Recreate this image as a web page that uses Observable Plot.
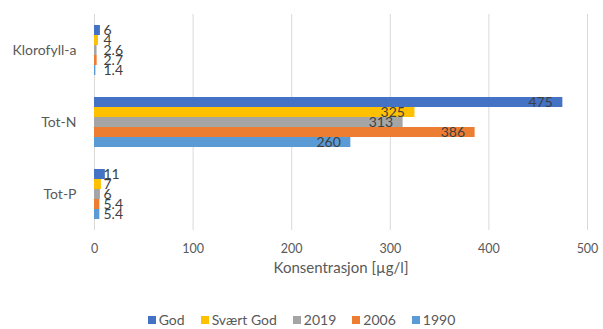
<!DOCTYPE html>
<html>
<head>
<meta charset="utf-8">
<script src="https://cdn.jsdelivr.net/npm/d3@7"></script>
<script src="https://cdn.jsdelivr.net/npm/@observablehq/plot@0.6"></script>
<style>
  html, body { margin: 0; padding: 0; background: #fff; }
  body { width: 603px; height: 329px; overflow: hidden; font-family: Lato, "Open Sans", sans-serif; }
  #legend { display: flex; justify-content: center; margin-top: 22px; font-size: 14px; color: #595959; line-height: 16px; }
  #legend .item { display: flex; align-items: center; margin: 0 8px; }
  #legend .sw { width: 8px; height: 8px; margin-right: 3px; }
</style>
</head>
<body>
<div id="chart"></div>
<div id="legend"></div>
<script>
const categories = ["Klorofyll-a", "Tot-N", "Tot-P"];
const series = ["God", "Svært God", "2019", "2006", "1990"];
const god = [6, 475, 11];
const svaertGod = [4, 325, 7];
const y2019 = [2.6, 313, 6];
const y2006 = [2.7, 386, 5.4];
const y1990 = [1.4, 260, 5.4];
const xTicks = [0, 100, 200, 300, 400, 500];
const xTitle = "Konsentrasjon [µg/l]";
const colors = ["#4472C4", "#FFC000", "#A5A5A5", "#ED7D31", "#5B9BD5"];

const seriesValues = [god, svaertGod, y2019, y2006, y1990];
const data = [];
categories.forEach((c, i) => {
  series.forEach((s, j) => {
    data.push({category: c, series: s, value: seriesValues[j][i]});
  });
});

const big = data.filter(d => d.value > 50);
const small = data.filter(d => d.value <= 50);

const chart = Plot.plot({
  width: 603,
  height: 290,
  marginLeft: 94,
  marginRight: 16,
  marginTop: 14,
  marginBottom: 60,
  style: {fontFamily: "Lato, 'Open Sans', sans-serif", background: "#fff"},
  x: {domain: [0, 500], ticks: xTicks},
  fy: {domain: categories, padding: 0},
  y: {domain: series, paddingInner: 0, paddingOuter: 0.96, axis: null},
  color: {domain: series, range: colors},
  marks: [
    Plot.gridX(xTicks, {stroke: "#d9d9d9", strokeOpacity: 1, strokeWidth: 1}),
    Plot.barX(data, {fy: "category", y: "series", x: "value", fill: "series"}),
    Plot.text(big, {fy: "category", y: "series", x: "value", text: d => String(d.value), textAnchor: "end", dx: -10, fill: "#404040", fontSize: 14}),
    Plot.text(small, {fy: "category", y: "series", x: 0, text: d => String(d.value), textAnchor: "start", dx: 9, fill: "#404040", fontSize: 14}),
    Plot.axisX({ticks: xTicks, tickSize: 0, tickPadding: 14, fontSize: 12.5, color: "#595959", label: null}),
    Plot.text([{fy: categories[categories.length - 1], t: xTitle}], {fy: "fy", text: "t", frameAnchor: "bottom", dy: 42, fontSize: 15, fill: "#595959"}),
    Plot.axisFy({anchor: "left", tickSize: 0, tickPadding: 18, fontSize: 14, color: "#595959", label: null})
  ]
});
document.getElementById("chart").appendChild(chart);

const legend = document.getElementById("legend");
series.forEach((s, j) => {
  const item = document.createElement("div");
  item.className = "item";
  const sw = document.createElement("span");
  sw.className = "sw";
  sw.style.background = colors[j];
  const t = document.createElement("span");
  t.textContent = s;
  item.appendChild(sw);
  item.appendChild(t);
  legend.appendChild(item);
});
</script>
</body>
</html>
